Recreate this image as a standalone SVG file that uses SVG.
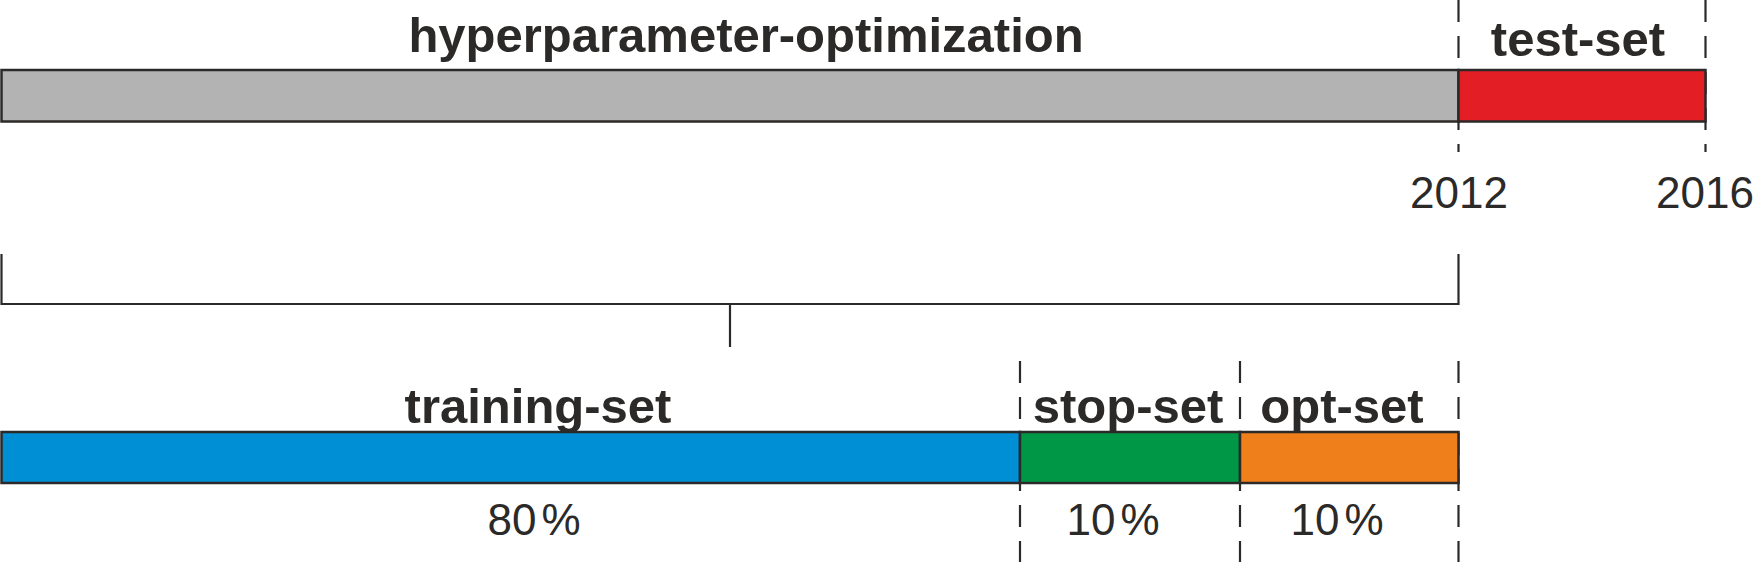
<svg xmlns="http://www.w3.org/2000/svg" width="1756" height="562" viewBox="0 0 1756 562">
  <style>
    .bar { stroke: #2b2a29; stroke-width: 2.5; }
    .dash { stroke: #2b2a29; stroke-width: 2.2; stroke-dasharray: 22 14; fill: none; }
    .line { stroke: #2b2a29; stroke-width: 2.2; fill: none; }
    .title { font-family: "Liberation Sans", Arial, sans-serif; font-weight: bold; font-size: 49px; fill: #2b2a29; text-anchor: middle; }
    .num { font-family: "Liberation Sans", Arial, sans-serif; font-size: 44px; fill: #2b2a29; text-anchor: middle; }
  </style>
  <rect width="1756" height="562" fill="#ffffff"/>

  <g id="connectors">
    <!-- top dashed markers -->
    <line class="dash" x1="1458.5" y1="0" x2="1458.5" y2="152"/>
    <line class="dash" x1="1705.5" y1="0" x2="1705.5" y2="152"/>
    <!-- bottom dashed markers -->
    <line class="dash" x1="1020" y1="361" x2="1020" y2="562"/>
    <line class="dash" x1="1240" y1="361" x2="1240" y2="562"/>
    <line class="dash" x1="1458.5" y1="361" x2="1458.5" y2="562"/>
    <!-- bracket -->
    <polyline class="line" points="1.5,254 1.5,304 1458.5,304 1458.5,254"/>
    <line class="line" x1="730" y1="304" x2="730" y2="347"/>
  </g>

  <g id="hyperparameter-optimization">
    <rect class="bar" x="1.5" y="70" width="1457" height="51.5" fill="#b2b3b2"/>
    <text class="title" x="746" y="52">hyperparameter-optimization</text>
  </g>

  <g id="test-set">
    <rect class="bar" x="1458.5" y="70" width="247" height="51.5" fill="#e31e24"/>
    <text class="title" x="1578" y="56">test-set</text>
  </g>

  <g id="year-2012">
    <text class="num" x="1459" y="208">2012</text>
  </g>
  <g id="year-2016">
    <text class="num" x="1705" y="208">2016</text>
  </g>

  <g id="training-set">
    <rect class="bar" x="1.5" y="432" width="1018.5" height="51" fill="#008fd5"/>
    <text class="title" x="538" y="423">training-set</text>
    <text class="num" x="534" y="535">80<tspan dx="5">%</tspan></text>
  </g>

  <g id="stop-set">
    <rect class="bar" x="1020" y="432" width="220" height="51" fill="#009846"/>
    <text class="title" x="1128" y="423">stop-set</text>
    <text class="num" x="1113" y="535">10<tspan dx="5">%</tspan></text>
  </g>

  <g id="opt-set">
    <rect class="bar" x="1240" y="432" width="218.5" height="51" fill="#ef7f1a"/>
    <text class="title" x="1342" y="423">opt-set</text>
    <text class="num" x="1337" y="535">10<tspan dx="5">%</tspan></text>
  </g>
</svg>
